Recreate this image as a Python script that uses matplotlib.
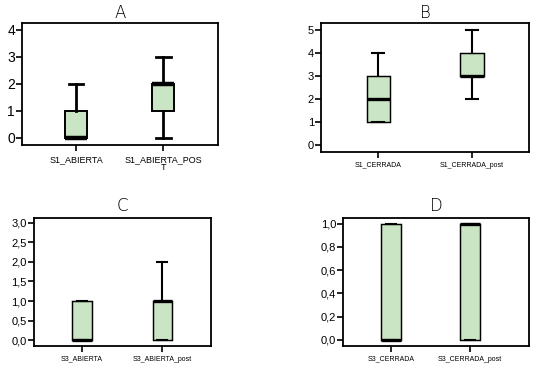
import matplotlib
matplotlib.use("Agg")
import matplotlib.pyplot as plt

# Data: (whislo, q1, med, q3, whishi) per box
titles = ["A", "B", "C", "D"]
labels_A = ["S1_ABIERTA", "S1_ABIERTA_POS\nT"]
labels_B = ["S1_CERRADA", "S1_CERRADA_post"]
labels_C = ["S3_ABIERTA", "S3_ABIERTA_post"]
labels_D = ["S3_CERRADA", "S3_CERRADA_post"]

whislo_A = [0, 0]; q1_A = [0, 1]; med_A = [0, 2]; q3_A = [1, 2]; whishi_A = [2, 3]
whislo_B = [1, 2]; q1_B = [1, 3]; med_B = [2, 3]; q3_B = [3, 4]; whishi_B = [4, 5]
whislo_C = [0, 0]; q1_C = [0, 0]; med_C = [0, 1]; q3_C = [1, 1]; whishi_C = [1, 2]
whislo_D = [0, 0]; q1_D = [0, 0]; med_D = [0, 1]; q3_D = [1, 1]; whishi_D = [1, 1]

yticks_A = [0, 1, 2, 3, 4]
yticks_B = [0, 1, 2, 3, 4, 5]
yticks_C = [0.0, 0.5, 1.0, 1.5, 2.0, 2.5, 3.0]
yticks_D = [0.0, 0.2, 0.4, 0.6, 0.8, 1.0]

plt.rcParams['font.family'] = ['Liberation Sans', 'DejaVu Sans']
fig = plt.figure(figsize=(5.37, 3.68), dpi=100)
fill = "#c9e5c3"

def panel(rect, title, labels, lo, q1, med, q3, hi, yticks, ylim, xlim, width, capw,
          lw, ytick_fmt, ysize, xsize, title_y):
    ax = fig.add_axes(rect)
    stats = []
    for i in range(len(labels)):
        stats.append(dict(whislo=lo[i], q1=q1[i], med=med[i], q3=q3[i],
                          whishi=hi[i], fliers=[]))
    ax.bxp(stats, positions=[1, 2], widths=width, capwidths=capw, patch_artist=True,
           showfliers=False,
           boxprops=dict(facecolor=fill, edgecolor="black", linewidth=lw * 0.7),
           medianprops=dict(color="black", linewidth=lw * 1.6, solid_capstyle="butt"),
           whiskerprops=dict(color="black", linewidth=lw),
           capprops=dict(color="black", linewidth=lw))
    ax.set_xlim(*xlim)
    ax.set_ylim(*ylim)
    ax.set_yticks(yticks)
    ax.set_yticklabels([ytick_fmt(v) for v in yticks], fontsize=ysize)
    ax.set_xticks([1, 2])
    ax.set_xticklabels(labels, fontsize=xsize, linespacing=0.9)
    ax.tick_params(axis="both", direction="out", length=4, width=1.2, colors="black", pad=1)
    ax.tick_params(axis="x", pad=3)
    for s in ax.spines.values():
        s.set_linewidth(1.3)
    fig.text(rect[0] + rect[2] / 2, title_y, title, ha="center", va="center",
             fontsize=12, family=["DejaVu Sans"], fontweight="light")
    return ax

panel([0.041, 0.606, 0.365, 0.332], titles[0], labels_A, whislo_A, q1_A, med_A, q3_A, whishi_A,
      yticks_A, (-0.26, 4.26), (0.38, 2.63), 0.26, 0.17, 2.0, lambda v: f"{v:d}", 10, 6.5, 1 - 13 / 368)
panel([0.598, 0.587, 0.387, 0.351], titles[1], labels_B, whislo_B, q1_B, med_B, q3_B, whishi_B,
      yticks_B, (-0.30, 5.30), (0.39, 2.61), 0.25, 0.13, 1.5, lambda v: f"{v:d}", 8, 5, 1 - 13 / 368)
panel([0.063, 0.060, 0.330, 0.348], titles[2], labels_C, whislo_C, q1_C, med_C, q3_C, whishi_C,
      yticks_C, (-0.15, 3.13), (0.40, 2.61), 0.24, 0.13, 1.5,
      lambda v: f"{v:.1f}".replace(".", ","), 8, 5, 1 - 206 / 368)
panel([0.639, 0.060, 0.346, 0.348], titles[3], labels_D, whislo_D, q1_D, med_D, q3_D, whishi_D,
      yticks_D, (-0.052, 1.05), (0.39, 2.75), 0.25, 0.13, 1.5,
      lambda v: f"{v:.1f}".replace(".", ","), 8, 5, 1 - 206 / 368)

fig.savefig("out.png", dpi=100)
